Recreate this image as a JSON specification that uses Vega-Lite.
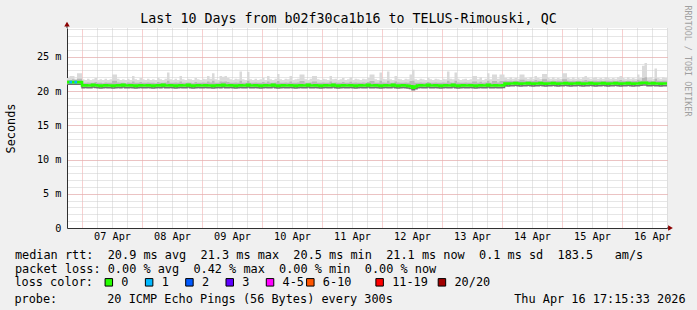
{
"$schema": "https://vega.github.io/schema/vega-lite/v6.json",
"width": 600, "height": 200,
"autosize": {"type": "none"},
"padding": {"left": 67, "top": 28, "right": 30, "bottom": 82},
"background": "#f0f0f0",
"config": {"font": "DejaVu Sans Mono", "view": {"fill": "#ffffff", "stroke": null}},
"title": {"text": "probe:\u00a0\u00a0\u00a0\u00a0\u00a0\u00a0\u00a020 ICMP Echo Pings (56 Bytes) every 300s\u00a0\u00a0\u00a0\u00a0\u00a0\u00a0\u00a0\u00a0\u00a0\u00a0\u00a0\u00a0\u00a0\u00a0\u00a0\u00a0\u00a0Thu Apr 16 17:15:33 2026",
 "orient": "bottom", "anchor": "start", "frame": "group", "align": "left", "dx": -52.6, "offset": 13.3, "baseline": "alphabetic",
 "font": "DejaVu Sans Mono", "fontSize": 11.86, "fontWeight": "normal", "color": "#000000"},
"datasets": {"ping": [
{"t":"2026-04-06T18:00Z","m":21.3,"lo":21.0,"q":21.6,"hi":21.9,"l":"0"},
{"t":"2026-04-06T19:00Z","m":21.3,"lo":21.0,"q":21.6,"hi":22.2,"l":"1"},
{"t":"2026-04-06T20:00Z","m":21.3,"lo":21.0,"q":21.7,"hi":22.2,"l":"0"},
{"t":"2026-04-06T21:00Z","m":21.3,"lo":21.0,"q":21.6,"hi":21.8,"l":"1"},
{"t":"2026-04-06T22:00Z","m":21.3,"lo":21.0,"q":21.8,"hi":22.6,"l":"0"},
{"t":"2026-04-06T23:00Z","m":21.3,"lo":21.0,"q":21.8,"hi":22.6,"l":"0"},
{"t":"2026-04-07T00:00Z","m":20.8,"lo":20.5,"q":21.2,"hi":21.7,"l":"0"},
{"t":"2026-04-07T01:00Z","m":20.85,"lo":20.55,"q":21.2,"hi":21.6,"l":"0"},
{"t":"2026-04-07T02:00Z","m":20.8,"lo":20.5,"q":21.25,"hi":21.8,"l":"0"},
{"t":"2026-04-07T03:00Z","m":20.8,"lo":20.5,"q":21.2,"hi":21.6,"l":"0"},
{"t":"2026-04-07T04:00Z","m":20.9,"lo":20.55,"q":21.2,"hi":21.7,"l":"0"},
{"t":"2026-04-07T05:00Z","m":20.85,"lo":20.5,"q":21.3,"hi":21.9,"l":"0"},
{"t":"2026-04-07T06:00Z","m":20.8,"lo":20.5,"q":21.2,"hi":21.6,"l":"0"},
{"t":"2026-04-07T07:00Z","m":20.75,"lo":20.45,"q":21.2,"hi":21.7,"l":"0"},
{"t":"2026-04-07T08:00Z","m":20.8,"lo":20.5,"q":21.15,"hi":21.6,"l":"0"},
{"t":"2026-04-07T09:00Z","m":20.85,"lo":20.55,"q":21.25,"hi":21.8,"l":"0"},
{"t":"2026-04-07T10:00Z","m":20.8,"lo":20.5,"q":21.2,"hi":21.6,"l":"0"},
{"t":"2026-04-07T11:00Z","m":20.8,"lo":20.5,"q":21.2,"hi":21.7,"l":"0"},
{"t":"2026-04-07T12:00Z","m":20.75,"lo":20.5,"q":21.5,"hi":22.4,"l":"0"},
{"t":"2026-04-07T13:00Z","m":20.8,"lo":20.5,"q":21.5,"hi":22.4,"l":"0"},
{"t":"2026-04-07T14:00Z","m":20.85,"lo":20.55,"q":21.25,"hi":21.8,"l":"0"},
{"t":"2026-04-07T15:00Z","m":20.8,"lo":20.5,"q":21.2,"hi":21.6,"l":"0"},
{"t":"2026-04-07T16:00Z","m":20.9,"lo":20.55,"q":21.2,"hi":21.7,"l":"0"},
{"t":"2026-04-07T17:00Z","m":20.8,"lo":20.5,"q":21.15,"hi":21.6,"l":"0"},
{"t":"2026-04-07T18:00Z","m":20.8,"lo":20.5,"q":21.25,"hi":21.8,"l":"0"},
{"t":"2026-04-07T19:00Z","m":20.85,"lo":20.5,"q":21.2,"hi":21.6,"l":"0"},
{"t":"2026-04-07T20:00Z","m":20.8,"lo":20.5,"q":21.4,"hi":22.2,"l":"0"},
{"t":"2026-04-07T21:00Z","m":20.75,"lo":20.45,"q":21.2,"hi":21.7,"l":"0"},
{"t":"2026-04-07T22:00Z","m":20.8,"lo":20.5,"q":21.2,"hi":21.6,"l":"0"},
{"t":"2026-04-07T23:00Z","m":20.85,"lo":20.55,"q":21.3,"hi":21.9,"l":"0"},
{"t":"2026-04-08T00:00Z","m":20.8,"lo":20.5,"q":21.2,"hi":21.7,"l":"0"},
{"t":"2026-04-08T01:00Z","m":20.8,"lo":20.5,"q":21.2,"hi":21.6,"l":"0"},
{"t":"2026-04-08T02:00Z","m":20.85,"lo":20.55,"q":21.25,"hi":21.8,"l":"0"},
{"t":"2026-04-08T03:00Z","m":20.8,"lo":20.5,"q":21.2,"hi":21.6,"l":"0"},
{"t":"2026-04-08T04:00Z","m":20.75,"lo":20.45,"q":21.2,"hi":21.7,"l":"0"},
{"t":"2026-04-08T05:00Z","m":20.8,"lo":20.5,"q":21.15,"hi":21.6,"l":"0"},
{"t":"2026-04-08T06:00Z","m":20.85,"lo":20.5,"q":21.3,"hi":21.9,"l":"0"},
{"t":"2026-04-08T07:00Z","m":20.8,"lo":20.5,"q":21.2,"hi":21.7,"l":"0"},
{"t":"2026-04-08T08:00Z","m":20.9,"lo":20.55,"q":21.2,"hi":21.6,"l":"0"},
{"t":"2026-04-08T09:00Z","m":20.8,"lo":20.5,"q":21.25,"hi":21.8,"l":"0"},
{"t":"2026-04-08T10:00Z","m":20.8,"lo":20.5,"q":21.5,"hi":22.7,"l":"0"},
{"t":"2026-04-08T11:00Z","m":20.85,"lo":20.55,"q":21.2,"hi":21.7,"l":"0"},
{"t":"2026-04-08T12:00Z","m":20.8,"lo":20.5,"q":21.2,"hi":21.6,"l":"0"},
{"t":"2026-04-08T13:00Z","m":20.75,"lo":20.45,"q":21.25,"hi":21.8,"l":"0"},
{"t":"2026-04-08T14:00Z","m":20.8,"lo":20.5,"q":21.2,"hi":21.6,"l":"0"},
{"t":"2026-04-08T15:00Z","m":20.85,"lo":20.5,"q":21.4,"hi":22.2,"l":"0"},
{"t":"2026-04-08T16:00Z","m":20.8,"lo":20.5,"q":21.2,"hi":21.7,"l":"0"},
{"t":"2026-04-08T17:00Z","m":20.8,"lo":20.5,"q":21.2,"hi":21.6,"l":"0"},
{"t":"2026-04-08T18:00Z","m":20.9,"lo":20.55,"q":21.25,"hi":21.8,"l":"0"},
{"t":"2026-04-08T19:00Z","m":20.8,"lo":20.5,"q":21.2,"hi":21.7,"l":"0"},
{"t":"2026-04-08T20:00Z","m":20.75,"lo":20.45,"q":21.15,"hi":21.6,"l":"0"},
{"t":"2026-04-08T21:00Z","m":20.8,"lo":20.5,"q":21.3,"hi":21.9,"l":"0"},
{"t":"2026-04-08T22:00Z","m":20.85,"lo":20.55,"q":21.2,"hi":21.7,"l":"0"},
{"t":"2026-04-08T23:00Z","m":20.8,"lo":20.5,"q":21.2,"hi":21.6,"l":"0"},
{"t":"2026-04-09T00:00Z","m":20.8,"lo":20.5,"q":21.25,"hi":21.8,"l":"0"},
{"t":"2026-04-09T01:00Z","m":20.85,"lo":20.5,"q":21.2,"hi":21.7,"l":"0"},
{"t":"2026-04-09T02:00Z","m":20.8,"lo":20.5,"q":21.4,"hi":22.2,"l":"0"},
{"t":"2026-04-09T03:00Z","m":20.8,"lo":20.5,"q":21.25,"hi":21.8,"l":"0"},
{"t":"2026-04-09T04:00Z","m":20.75,"lo":20.45,"q":21.5,"hi":22.6,"l":"0"},
{"t":"2026-04-09T05:00Z","m":20.8,"lo":20.5,"q":21.2,"hi":21.7,"l":"0"},
{"t":"2026-04-09T06:00Z","m":20.85,"lo":20.55,"q":21.2,"hi":21.6,"l":"0"},
{"t":"2026-04-09T07:00Z","m":20.8,"lo":20.5,"q":21.4,"hi":22.2,"l":"0"},
{"t":"2026-04-09T08:00Z","m":20.9,"lo":20.55,"q":21.35,"hi":22.1,"l":"0"},
{"t":"2026-04-09T09:00Z","m":20.8,"lo":20.5,"q":21.4,"hi":22.2,"l":"0"},
{"t":"2026-04-09T10:00Z","m":20.8,"lo":20.5,"q":21.3,"hi":21.9,"l":"0"},
{"t":"2026-04-09T11:00Z","m":20.85,"lo":20.5,"q":21.2,"hi":21.7,"l":"0"},
{"t":"2026-04-09T12:00Z","m":20.8,"lo":20.5,"q":21.2,"hi":21.6,"l":"0"},
{"t":"2026-04-09T13:00Z","m":20.75,"lo":20.45,"q":21.25,"hi":21.8,"l":"0"},
{"t":"2026-04-09T14:00Z","m":20.8,"lo":20.5,"q":21.2,"hi":21.7,"l":"0"},
{"t":"2026-04-09T15:00Z","m":20.85,"lo":20.55,"q":21.5,"hi":22.85,"l":"0"},
{"t":"2026-04-09T16:00Z","m":20.8,"lo":20.5,"q":21.2,"hi":21.7,"l":"0"},
{"t":"2026-04-09T17:00Z","m":20.8,"lo":20.5,"q":21.2,"hi":21.6,"l":"0"},
{"t":"2026-04-09T18:00Z","m":20.9,"lo":20.55,"q":21.5,"hi":22.8,"l":"0"},
{"t":"2026-04-09T19:00Z","m":20.8,"lo":20.5,"q":21.2,"hi":21.7,"l":"0"},
{"t":"2026-04-09T20:00Z","m":20.8,"lo":20.5,"q":21.2,"hi":21.6,"l":"0"},
{"t":"2026-04-09T21:00Z","m":20.85,"lo":20.5,"q":21.25,"hi":21.8,"l":"0"},
{"t":"2026-04-09T22:00Z","m":20.8,"lo":20.5,"q":21.2,"hi":21.6,"l":"0"},
{"t":"2026-04-09T23:00Z","m":20.75,"lo":20.45,"q":21.2,"hi":21.7,"l":"0"},
{"t":"2026-04-10T00:00Z","m":20.8,"lo":20.5,"q":21.3,"hi":21.9,"l":"0"},
{"t":"2026-04-10T01:00Z","m":20.85,"lo":20.55,"q":21.2,"hi":21.6,"l":"0"},
{"t":"2026-04-10T02:00Z","m":20.8,"lo":20.5,"q":21.4,"hi":22.2,"l":"0"},
{"t":"2026-04-10T03:00Z","m":20.8,"lo":20.5,"q":21.2,"hi":21.7,"l":"0"},
{"t":"2026-04-10T04:00Z","m":20.9,"lo":20.55,"q":21.2,"hi":21.6,"l":"0"},
{"t":"2026-04-10T05:00Z","m":20.8,"lo":20.5,"q":21.25,"hi":21.8,"l":"0"},
{"t":"2026-04-10T06:00Z","m":20.75,"lo":20.45,"q":21.45,"hi":22.5,"l":"0"},
{"t":"2026-04-10T07:00Z","m":20.8,"lo":20.5,"q":21.2,"hi":21.7,"l":"0"},
{"t":"2026-04-10T08:00Z","m":20.85,"lo":20.5,"q":21.2,"hi":21.6,"l":"0"},
{"t":"2026-04-10T09:00Z","m":20.8,"lo":20.5,"q":21.25,"hi":21.8,"l":"0"},
{"t":"2026-04-10T10:00Z","m":20.8,"lo":20.5,"q":21.2,"hi":21.7,"l":"0"},
{"t":"2026-04-10T11:00Z","m":20.85,"lo":20.55,"q":21.4,"hi":22.2,"l":"0"},
{"t":"2026-04-10T12:00Z","m":20.8,"lo":20.5,"q":21.2,"hi":21.6,"l":"0"},
{"t":"2026-04-10T13:00Z","m":20.75,"lo":20.45,"q":21.2,"hi":21.7,"l":"0"},
{"t":"2026-04-10T14:00Z","m":20.8,"lo":20.5,"q":21.25,"hi":21.8,"l":"0"},
{"t":"2026-04-10T15:00Z","m":20.85,"lo":20.5,"q":21.45,"hi":22.4,"l":"0"},
{"t":"2026-04-10T16:00Z","m":20.8,"lo":20.5,"q":21.45,"hi":22.4,"l":"0"},
{"t":"2026-04-10T17:00Z","m":20.8,"lo":20.5,"q":21.2,"hi":21.7,"l":"0"},
{"t":"2026-04-10T18:00Z","m":20.9,"lo":20.55,"q":21.2,"hi":21.6,"l":"0"},
{"t":"2026-04-10T19:00Z","m":20.8,"lo":20.5,"q":21.25,"hi":21.8,"l":"0"},
{"t":"2026-04-10T20:00Z","m":20.8,"lo":20.5,"q":21.4,"hi":22.2,"l":"0"},
{"t":"2026-04-10T21:00Z","m":20.85,"lo":20.55,"q":21.4,"hi":22.2,"l":"0"},
{"t":"2026-04-10T22:00Z","m":20.8,"lo":20.5,"q":21.2,"hi":21.7,"l":"0"},
{"t":"2026-04-10T23:00Z","m":20.75,"lo":20.45,"q":21.2,"hi":21.6,"l":"0"},
{"t":"2026-04-11T00:00Z","m":20.8,"lo":20.5,"q":21.25,"hi":21.8,"l":"0"},
{"t":"2026-04-11T01:00Z","m":20.85,"lo":20.5,"q":21.2,"hi":21.7,"l":"0"},
{"t":"2026-04-11T02:00Z","m":20.8,"lo":20.5,"q":21.2,"hi":21.6,"l":"0"},
{"t":"2026-04-11T03:00Z","m":20.8,"lo":20.5,"q":21.4,"hi":22.2,"l":"0"},
{"t":"2026-04-11T04:00Z","m":20.9,"lo":20.55,"q":21.2,"hi":21.7,"l":"0"},
{"t":"2026-04-11T05:00Z","m":20.8,"lo":20.5,"q":21.25,"hi":21.8,"l":"0"},
{"t":"2026-04-11T06:00Z","m":20.75,"lo":20.45,"q":21.2,"hi":21.6,"l":"0"},
{"t":"2026-04-11T07:00Z","m":20.8,"lo":20.5,"q":21.2,"hi":21.7,"l":"0"},
{"t":"2026-04-11T08:00Z","m":20.85,"lo":20.55,"q":21.3,"hi":21.9,"l":"0"},
{"t":"2026-04-11T09:00Z","m":20.8,"lo":20.5,"q":21.2,"hi":21.6,"l":"0"},
{"t":"2026-04-11T10:00Z","m":20.8,"lo":20.5,"q":21.2,"hi":21.7,"l":"0"},
{"t":"2026-04-11T11:00Z","m":20.85,"lo":20.5,"q":21.35,"hi":22.0,"l":"0"},
{"t":"2026-04-11T12:00Z","m":20.8,"lo":20.5,"q":21.2,"hi":21.6,"l":"0"},
{"t":"2026-04-11T13:00Z","m":20.75,"lo":20.45,"q":21.25,"hi":21.8,"l":"0"},
{"t":"2026-04-11T14:00Z","m":20.8,"lo":20.5,"q":21.2,"hi":21.7,"l":"0"},
{"t":"2026-04-11T15:00Z","m":20.85,"lo":20.55,"q":21.2,"hi":21.6,"l":"0"},
{"t":"2026-04-11T16:00Z","m":20.8,"lo":20.5,"q":21.25,"hi":21.8,"l":"0"},
{"t":"2026-04-11T17:00Z","m":20.8,"lo":20.5,"q":21.2,"hi":21.7,"l":"0"},
{"t":"2026-04-11T18:00Z","m":20.9,"lo":20.55,"q":21.3,"hi":21.9,"l":"0"},
{"t":"2026-04-11T19:00Z","m":20.8,"lo":20.5,"q":21.45,"hi":22.4,"l":"0"},
{"t":"2026-04-11T20:00Z","m":20.8,"lo":20.5,"q":21.45,"hi":22.4,"l":"0"},
{"t":"2026-04-11T21:00Z","m":20.85,"lo":20.5,"q":21.2,"hi":21.7,"l":"0"},
{"t":"2026-04-11T22:00Z","m":20.8,"lo":20.5,"q":21.2,"hi":21.6,"l":"0"},
{"t":"2026-04-11T23:00Z","m":20.75,"lo":20.45,"q":21.5,"hi":22.7,"l":"0"},
{"t":"2026-04-12T00:00Z","m":20.8,"lo":20.5,"q":21.25,"hi":21.8,"l":"0"},
{"t":"2026-04-12T01:00Z","m":20.85,"lo":20.55,"q":21.2,"hi":21.7,"l":"0"},
{"t":"2026-04-12T02:00Z","m":20.8,"lo":20.5,"q":21.5,"hi":22.85,"l":"0"},
{"t":"2026-04-12T03:00Z","m":20.8,"lo":20.5,"q":21.2,"hi":21.7,"l":"0"},
{"t":"2026-04-12T04:00Z","m":20.9,"lo":20.55,"q":21.2,"hi":21.6,"l":"0"},
{"t":"2026-04-12T05:00Z","m":20.8,"lo":20.5,"q":21.4,"hi":22.2,"l":"0"},
{"t":"2026-04-12T06:00Z","m":20.75,"lo":20.45,"q":21.25,"hi":21.8,"l":"0"},
{"t":"2026-04-12T07:00Z","m":20.8,"lo":20.5,"q":21.2,"hi":21.7,"l":"0"},
{"t":"2026-04-12T08:00Z","m":20.85,"lo":20.5,"q":21.2,"hi":21.6,"l":"0"},
{"t":"2026-04-12T09:00Z","m":20.8,"lo":20.5,"q":21.25,"hi":21.8,"l":"0"},
{"t":"2026-04-12T10:00Z","m":20.75,"lo":20.45,"q":21.2,"hi":21.7,"l":"0"},
{"t":"2026-04-12T11:00Z","m":20.7,"lo":20.35,"q":21.45,"hi":22.4,"l":"0"},
{"t":"2026-04-12T12:00Z","m":20.5,"lo":20.1,"q":21.5,"hi":23.1,"l":"0"},
{"t":"2026-04-12T13:00Z","m":20.65,"lo":20.3,"q":21.2,"hi":21.7,"l":"0"},
{"t":"2026-04-12T14:00Z","m":20.8,"lo":20.5,"q":21.2,"hi":21.6,"l":"0"},
{"t":"2026-04-12T15:00Z","m":20.85,"lo":20.55,"q":21.25,"hi":21.8,"l":"0"},
{"t":"2026-04-12T16:00Z","m":20.8,"lo":20.5,"q":21.2,"hi":21.7,"l":"0"},
{"t":"2026-04-12T17:00Z","m":20.8,"lo":20.5,"q":21.2,"hi":21.6,"l":"0"},
{"t":"2026-04-12T18:00Z","m":20.9,"lo":20.55,"q":21.3,"hi":21.9,"l":"0"},
{"t":"2026-04-12T19:00Z","m":20.8,"lo":20.5,"q":21.2,"hi":21.7,"l":"0"},
{"t":"2026-04-12T20:00Z","m":20.8,"lo":20.5,"q":21.2,"hi":21.6,"l":"0"},
{"t":"2026-04-12T21:00Z","m":20.85,"lo":20.5,"q":21.25,"hi":21.8,"l":"0"},
{"t":"2026-04-12T22:00Z","m":20.8,"lo":20.5,"q":21.2,"hi":21.7,"l":"0"},
{"t":"2026-04-12T23:00Z","m":20.75,"lo":20.45,"q":21.2,"hi":21.6,"l":"0"},
{"t":"2026-04-13T00:00Z","m":20.8,"lo":20.5,"q":21.25,"hi":21.8,"l":"0"},
{"t":"2026-04-13T01:00Z","m":20.85,"lo":20.55,"q":21.2,"hi":21.7,"l":"0"},
{"t":"2026-04-13T02:00Z","m":20.8,"lo":20.5,"q":21.5,"hi":22.85,"l":"0"},
{"t":"2026-04-13T03:00Z","m":20.8,"lo":20.5,"q":21.25,"hi":21.8,"l":"0"},
{"t":"2026-04-13T04:00Z","m":20.9,"lo":20.55,"q":21.2,"hi":21.7,"l":"0"},
{"t":"2026-04-13T05:00Z","m":20.8,"lo":20.5,"q":21.5,"hi":22.7,"l":"0"},
{"t":"2026-04-13T06:00Z","m":20.75,"lo":20.45,"q":21.25,"hi":21.8,"l":"0"},
{"t":"2026-04-13T07:00Z","m":20.8,"lo":20.5,"q":21.2,"hi":21.6,"l":"0"},
{"t":"2026-04-13T08:00Z","m":20.85,"lo":20.5,"q":21.2,"hi":21.7,"l":"0"},
{"t":"2026-04-13T09:00Z","m":20.8,"lo":20.5,"q":21.25,"hi":21.8,"l":"0"},
{"t":"2026-04-13T10:00Z","m":20.8,"lo":20.5,"q":21.2,"hi":21.6,"l":"0"},
{"t":"2026-04-13T11:00Z","m":20.85,"lo":20.55,"q":21.2,"hi":21.7,"l":"0"},
{"t":"2026-04-13T12:00Z","m":20.8,"lo":20.5,"q":21.4,"hi":22.2,"l":"0"},
{"t":"2026-04-13T13:00Z","m":20.75,"lo":20.45,"q":21.4,"hi":22.2,"l":"0"},
{"t":"2026-04-13T14:00Z","m":20.8,"lo":20.5,"q":21.2,"hi":21.7,"l":"0"},
{"t":"2026-04-13T15:00Z","m":20.85,"lo":20.5,"q":21.35,"hi":22.0,"l":"0"},
{"t":"2026-04-13T16:00Z","m":20.8,"lo":20.5,"q":21.2,"hi":21.6,"l":"0"},
{"t":"2026-04-13T17:00Z","m":20.8,"lo":20.5,"q":21.25,"hi":21.8,"l":"0"},
{"t":"2026-04-13T18:00Z","m":20.9,"lo":20.55,"q":21.5,"hi":22.6,"l":"0"},
{"t":"2026-04-13T19:00Z","m":20.8,"lo":20.5,"q":21.2,"hi":21.7,"l":"0"},
{"t":"2026-04-13T20:00Z","m":20.8,"lo":20.5,"q":21.45,"hi":22.4,"l":"0"},
{"t":"2026-04-13T21:00Z","m":20.85,"lo":20.55,"q":21.45,"hi":22.4,"l":"0"},
{"t":"2026-04-13T22:00Z","m":20.8,"lo":20.5,"q":21.25,"hi":21.8,"l":"0"},
{"t":"2026-04-13T23:00Z","m":20.8,"lo":20.5,"q":21.45,"hi":22.4,"l":"0"},
{"t":"2026-04-14T00:00Z","m":20.85,"lo":20.5,"q":21.45,"hi":22.4,"l":"0"},
{"t":"2026-04-14T01:00Z","m":21.1,"lo":20.8,"q":21.5,"hi":21.9,"l":"0"},
{"t":"2026-04-14T02:00Z","m":21.05,"lo":20.75,"q":21.45,"hi":21.8,"l":"0"},
{"t":"2026-04-14T03:00Z","m":21.1,"lo":20.8,"q":21.5,"hi":22.0,"l":"0"},
{"t":"2026-04-14T04:00Z","m":21.1,"lo":20.8,"q":21.45,"hi":21.8,"l":"0"},
{"t":"2026-04-14T05:00Z","m":21.15,"lo":20.85,"q":21.5,"hi":21.9,"l":"0"},
{"t":"2026-04-14T06:00Z","m":21.1,"lo":20.8,"q":21.45,"hi":21.8,"l":"0"},
{"t":"2026-04-14T07:00Z","m":21.05,"lo":20.75,"q":21.65,"hi":22.4,"l":"0"},
{"t":"2026-04-14T08:00Z","m":21.1,"lo":20.8,"q":21.65,"hi":22.4,"l":"0"},
{"t":"2026-04-14T09:00Z","m":21.1,"lo":20.8,"q":21.5,"hi":21.9,"l":"0"},
{"t":"2026-04-14T10:00Z","m":21.15,"lo":20.85,"q":21.45,"hi":21.8,"l":"0"},
{"t":"2026-04-14T11:00Z","m":21.1,"lo":20.8,"q":21.5,"hi":22.0,"l":"0"},
{"t":"2026-04-14T12:00Z","m":21.05,"lo":20.75,"q":21.45,"hi":21.8,"l":"0"},
{"t":"2026-04-14T13:00Z","m":21.1,"lo":20.8,"q":21.6,"hi":22.2,"l":"0"},
{"t":"2026-04-14T14:00Z","m":21.1,"lo":20.8,"q":21.5,"hi":21.9,"l":"0"},
{"t":"2026-04-14T15:00Z","m":21.15,"lo":20.85,"q":21.45,"hi":21.8,"l":"0"},
{"t":"2026-04-14T16:00Z","m":21.1,"lo":20.8,"q":21.7,"hi":22.5,"l":"0"},
{"t":"2026-04-14T17:00Z","m":21.05,"lo":20.75,"q":21.7,"hi":22.5,"l":"0"},
{"t":"2026-04-14T18:00Z","m":21.1,"lo":20.8,"q":21.5,"hi":21.9,"l":"0"},
{"t":"2026-04-14T19:00Z","m":21.1,"lo":20.8,"q":21.45,"hi":21.8,"l":"0"},
{"t":"2026-04-14T20:00Z","m":21.15,"lo":20.85,"q":21.5,"hi":22.0,"l":"0"},
{"t":"2026-04-14T21:00Z","m":21.1,"lo":20.8,"q":21.45,"hi":21.8,"l":"0"},
{"t":"2026-04-14T22:00Z","m":21.05,"lo":20.75,"q":21.5,"hi":21.9,"l":"0"},
{"t":"2026-04-14T23:00Z","m":21.1,"lo":20.8,"q":21.45,"hi":21.8,"l":"0"},
{"t":"2026-04-15T00:00Z","m":21.1,"lo":20.8,"q":21.7,"hi":22.6,"l":"0"},
{"t":"2026-04-15T01:00Z","m":21.15,"lo":20.85,"q":21.7,"hi":22.6,"l":"0"},
{"t":"2026-04-15T02:00Z","m":21.1,"lo":20.8,"q":21.5,"hi":21.9,"l":"0"},
{"t":"2026-04-15T03:00Z","m":21.05,"lo":20.75,"q":21.45,"hi":21.8,"l":"0"},
{"t":"2026-04-15T04:00Z","m":21.1,"lo":20.8,"q":21.5,"hi":22.0,"l":"0"},
{"t":"2026-04-15T05:00Z","m":21.1,"lo":20.8,"q":21.45,"hi":21.8,"l":"0"},
{"t":"2026-04-15T06:00Z","m":21.15,"lo":20.85,"q":21.5,"hi":21.9,"l":"0"},
{"t":"2026-04-15T07:00Z","m":21.1,"lo":20.8,"q":21.45,"hi":21.8,"l":"0"},
{"t":"2026-04-15T08:00Z","m":21.05,"lo":20.75,"q":21.5,"hi":22.0,"l":"0"},
{"t":"2026-04-15T09:00Z","m":21.1,"lo":20.8,"q":21.6,"hi":22.2,"l":"0"},
{"t":"2026-04-15T10:00Z","m":21.1,"lo":20.8,"q":21.5,"hi":21.9,"l":"0"},
{"t":"2026-04-15T11:00Z","m":21.15,"lo":20.85,"q":21.45,"hi":21.8,"l":"0"},
{"t":"2026-04-15T12:00Z","m":21.1,"lo":20.8,"q":21.5,"hi":21.9,"l":"0"},
{"t":"2026-04-15T13:00Z","m":21.05,"lo":20.75,"q":21.5,"hi":22.0,"l":"0"},
{"t":"2026-04-15T14:00Z","m":21.1,"lo":20.8,"q":21.45,"hi":21.8,"l":"0"},
{"t":"2026-04-15T15:00Z","m":21.1,"lo":20.8,"q":21.5,"hi":21.9,"l":"0"},
{"t":"2026-04-15T16:00Z","m":21.15,"lo":20.85,"q":21.45,"hi":21.8,"l":"0"},
{"t":"2026-04-15T17:00Z","m":21.1,"lo":20.8,"q":21.5,"hi":22.0,"l":"0"},
{"t":"2026-04-15T18:00Z","m":21.05,"lo":20.75,"q":21.5,"hi":21.9,"l":"0"},
{"t":"2026-04-15T19:00Z","m":21.1,"lo":20.8,"q":21.45,"hi":21.8,"l":"0"},
{"t":"2026-04-15T20:00Z","m":21.1,"lo":20.8,"q":21.5,"hi":21.9,"l":"0"},
{"t":"2026-04-15T21:00Z","m":21.15,"lo":20.85,"q":21.45,"hi":21.8,"l":"0"},
{"t":"2026-04-15T22:00Z","m":21.1,"lo":20.8,"q":21.5,"hi":22.0,"l":"0"},
{"t":"2026-04-15T23:00Z","m":21.05,"lo":20.75,"q":21.6,"hi":22.2,"l":"0"},
{"t":"2026-04-16T00:00Z","m":21.1,"lo":20.8,"q":21.5,"hi":21.9,"l":"0"},
{"t":"2026-04-16T01:00Z","m":21.1,"lo":20.8,"q":21.45,"hi":21.8,"l":"0"},
{"t":"2026-04-16T02:00Z","m":21.15,"lo":20.85,"q":21.5,"hi":22.0,"l":"0"},
{"t":"2026-04-16T03:00Z","m":21.1,"lo":20.8,"q":21.45,"hi":21.8,"l":"0"},
{"t":"2026-04-16T04:00Z","m":21.05,"lo":20.75,"q":21.5,"hi":21.9,"l":"0"},
{"t":"2026-04-16T05:00Z","m":21.1,"lo":20.8,"q":21.45,"hi":21.8,"l":"0"},
{"t":"2026-04-16T06:00Z","m":21.1,"lo":20.8,"q":21.65,"hi":22.4,"l":"0"},
{"t":"2026-04-16T07:00Z","m":21.15,"lo":20.85,"q":21.5,"hi":21.9,"l":"0"},
{"t":"2026-04-16T08:00Z","m":21.2,"lo":20.85,"q":21.9,"hi":23.7,"l":"0"},
{"t":"2026-04-16T09:00Z","m":21.2,"lo":20.85,"q":22.0,"hi":24.1,"l":"0"},
{"t":"2026-04-16T10:00Z","m":21.1,"lo":20.8,"q":21.5,"hi":21.9,"l":"0"},
{"t":"2026-04-16T11:00Z","m":21.1,"lo":20.8,"q":21.5,"hi":22.0,"l":"0"},
{"t":"2026-04-16T12:00Z","m":21.15,"lo":20.85,"q":21.45,"hi":21.8,"l":"0"},
{"t":"2026-04-16T13:00Z","m":21.1,"lo":20.8,"q":21.8,"hi":23.3,"l":"0"},
{"t":"2026-04-16T14:00Z","m":21.1,"lo":20.8,"q":21.5,"hi":21.9,"l":"0"},
{"t":"2026-04-16T15:00Z","m":21.05,"lo":20.75,"q":21.45,"hi":21.8,"l":"0"},
{"t":"2026-04-16T16:00Z","m":21.1,"lo":20.8,"q":21.5,"hi":22.0,"l":"0"},
{"t":"2026-04-16T17:00Z","m":21.1,"lo":20.8,"q":21.5,"hi":21.9,"l":"0"},
{"t":"2026-04-16T18:00Z","m":21.1,"lo":20.8,"q":21.5,"hi":21.9,"l":"0"}
]},
"data": {"name": "ping"},
"resolve": {"axis": {"x": "independent", "y": "independent"}},
"layer": [
{
"mark": {"type": "area", "interpolate": "step-after", "color": "#dadada", "opacity": 1},
"encoding": {
"x": {"field": "t", "type": "temporal",
 "scale": {"type": "utc", "nice": false, "domain": [{"year": 2026, "month": 4, "date": 6, "hours": 18, "utc": true}, {"year": 2026, "month": 4, "date": 16, "hours": 18, "utc": true}]},
 "axis": {"orient": "bottom",
  "values": [
   {"year": 2026, "month": 4, "date": 6, "hours": 18, "utc": true},
   {"year": 2026, "month": 4, "date": 7, "hours": 6, "utc": true}, {"year": 2026, "month": 4, "date": 7, "hours": 12, "utc": true}, {"year": 2026, "month": 4, "date": 7, "hours": 18, "utc": true},
   {"year": 2026, "month": 4, "date": 8, "hours": 6, "utc": true}, {"year": 2026, "month": 4, "date": 8, "hours": 12, "utc": true}, {"year": 2026, "month": 4, "date": 8, "hours": 18, "utc": true},
   {"year": 2026, "month": 4, "date": 9, "hours": 6, "utc": true}, {"year": 2026, "month": 4, "date": 9, "hours": 12, "utc": true}, {"year": 2026, "month": 4, "date": 9, "hours": 18, "utc": true},
   {"year": 2026, "month": 4, "date": 10, "hours": 6, "utc": true}, {"year": 2026, "month": 4, "date": 10, "hours": 12, "utc": true}, {"year": 2026, "month": 4, "date": 10, "hours": 18, "utc": true},
   {"year": 2026, "month": 4, "date": 11, "hours": 6, "utc": true}, {"year": 2026, "month": 4, "date": 11, "hours": 12, "utc": true}, {"year": 2026, "month": 4, "date": 11, "hours": 18, "utc": true},
   {"year": 2026, "month": 4, "date": 12, "hours": 6, "utc": true}, {"year": 2026, "month": 4, "date": 12, "hours": 12, "utc": true}, {"year": 2026, "month": 4, "date": 12, "hours": 18, "utc": true},
   {"year": 2026, "month": 4, "date": 13, "hours": 6, "utc": true}, {"year": 2026, "month": 4, "date": 13, "hours": 12, "utc": true}, {"year": 2026, "month": 4, "date": 13, "hours": 18, "utc": true},
   {"year": 2026, "month": 4, "date": 14, "hours": 6, "utc": true}, {"year": 2026, "month": 4, "date": 14, "hours": 12, "utc": true}, {"year": 2026, "month": 4, "date": 14, "hours": 18, "utc": true},
   {"year": 2026, "month": 4, "date": 15, "hours": 6, "utc": true}, {"year": 2026, "month": 4, "date": 15, "hours": 12, "utc": true}, {"year": 2026, "month": 4, "date": 15, "hours": 18, "utc": true},
   {"year": 2026, "month": 4, "date": 16, "hours": 6, "utc": true}, {"year": 2026, "month": 4, "date": 16, "hours": 12, "utc": true}, {"year": 2026, "month": 4, "date": 16, "hours": 18, "utc": true}],
  "labelExpr": "utchours(datum.value) == 12 ? utcFormat(datum.value, '%d %b') : ''",
  "labelOverlap": false, "labelFlush": false, "labelBound": false,
  "labelFont": "DejaVu Sans Mono", "labelFontSize": 10.2, "labelColor": "#000000", "labelPadding": 3, "labelDx": 2, "labelBaseline": "top",
  "grid": true, "gridColor": "#cccccc", "gridDash": [1, 1], "gridWidth": 1,
  "ticks": false, "tickSize": 0, "domain": true, "domainColor": "#303030",
  "title": ["median rtt:\u00a0\u00a020.9 ms avg\u00a0\u00a021.3 ms max\u00a0\u00a020.5 ms min\u00a0\u00a021.1 ms now\u00a0\u00a00.1 ms sd\u00a0\u00a0183.5\u00a0\u00a0\u00a0am/s",
   "packet loss: 0.00 % avg\u00a0\u00a00.42 % max\u00a0\u00a00.00 % min\u00a0\u00a00.00 % now"],
  "titleFont": "DejaVu Sans Mono", "titleFontSize": 11.86, "titleFontWeight": "normal", "titleColor": "#000000",
  "titleAlign": "left", "titleBaseline": "alphabetic", "titleX": -52.6, "titleY": 30.5, "titleLineHeight": 14}},
"y": {"field": "lo", "type": "quantitative",
 "scale": {"domain": [0, 29.2], "nice": false},
 "axis": {"orient": "left", "values": [0,1,2,3,4,5,6,7,8,9,10,11,12,13,14,15,16,17,18,19,20,21,22,23,24,25,26,27,28,29],
  "labelExpr": "datum.value % 5 == 0 ? (datum.value == 0 ? '0' : datum.value + ' m') : ''",
  "labelOverlap": false, "labelFlush": false, "labelFont": "DejaVu Sans Mono", "labelFontSize": 10.2, "labelColor": "#000000", "labelPadding": 6,
  "grid": true, "gridColor": "#cccccc", "gridDash": [1, 1], "gridWidth": 1,
  "ticks": false, "tickSize": 0, "domain": true, "domainColor": "#303030",
  "title": "Seconds", "titleFont": "DejaVu Sans Mono", "titleFontSize": 11.86, "titleFontWeight": "normal", "titleColor": "#000000",
  "titleAngle": -90, "titleAlign": "center", "titleBaseline": "alphabetic", "titleX": -52.5, "titleY": 100}},
"y2": {"field": "hi"}
}
},
{
"mark": {"type": "area", "interpolate": "step-after", "color": "#b8b8b8", "opacity": 1},
"encoding": {
"x": {"field": "t", "type": "temporal",
 "axis": {"orient": "top", "labels": false, "ticks": false, "domain": false,
  "values": [
   {"year": 2026, "month": 4, "date": 7, "utc": true}, {"year": 2026, "month": 4, "date": 8, "utc": true}, {"year": 2026, "month": 4, "date": 9, "utc": true},
   {"year": 2026, "month": 4, "date": 10, "utc": true}, {"year": 2026, "month": 4, "date": 11, "utc": true}, {"year": 2026, "month": 4, "date": 12, "utc": true},
   {"year": 2026, "month": 4, "date": 13, "utc": true}, {"year": 2026, "month": 4, "date": 14, "utc": true}, {"year": 2026, "month": 4, "date": 15, "utc": true},
   {"year": 2026, "month": 4, "date": 16, "utc": true}],
  "grid": true, "gridColor": "#f0a0a0", "gridDash": [1, 1], "gridWidth": 1,
  "title": "Last 10 Days from b02f30ca1b16 to TELUS-Rimouski, QC", "titleFont": "DejaVu Sans Mono", "titleFontSize": 13.3, "titleFontWeight": "normal", "titleColor": "#000000",
  "titleX": 281, "titleY": -5.3, "titleAlign": "center", "titleBaseline": "alphabetic", "titleAngle": 0}},
"y": {"field": "m", "type": "quantitative",
 "axis": {"orient": "right", "labels": false, "ticks": false, "domain": false,
  "values": [5, 10, 15, 20, 25],
  "grid": true, "gridColor": "#f0a0a0", "gridDash": [1, 1], "gridWidth": 1,
  "title": "RRDTOOL / TOBI OETIKER", "titleFont": "DejaVu Sans Mono", "titleFontSize": 8.4, "titleFontWeight": "normal", "titleColor": "#a0a0a0",
  "titleAngle": 90, "titleX": 20, "titleY": -23, "titleAlign": "left", "titleBaseline": "middle"}},
"y2": {"field": "q"}
}
},
{
"mark": {"type": "line", "interpolate": "step-after", "color": "#707070", "strokeWidth": 1.5, "yOffset": 2.2, "opacity": 1},
"encoding": {
"x": {"field": "t", "type": "temporal", "axis": null},
"y": {"field": "m", "type": "quantitative", "axis": null}
}
},
{
"mark": {"type": "line", "interpolate": "step-after", "color": "#26ff00", "strokeWidth": 2.6, "opacity": 1},
"encoding": {
"x": {"field": "t", "type": "temporal", "axis": null},
"y": {"field": "m", "type": "quantitative", "axis": null}
}
},
{
"transform": [{"filter": "datum.l != '0'"}],
"mark": {"type": "point", "shape": "square", "filled": true, "size": 7, "xOffset": 1.25, "opacity": 1},
"encoding": {
"x": {"field": "t", "type": "temporal", "axis": null},
"y": {"field": "m", "type": "quantitative", "axis": null},
"color": {"field": "l", "type": "nominal",
 "scale": {"domain": ["0", "1", "2", "3", "4-5", "6-10", "11-19", "20/20"], "range": ["#26ff00", "#00b8ff", "#0059ff", "#5e00ff", "#ff00ff", "#ff5500", "#ff0000", "#a10000"]},
 "legend": {"orient": "none", "legendX": -52.6, "legendY": 248.3, "direction": "horizontal", "padding": 0,
  "title": "loss color:", "titleOrient": "left", "titlePadding": 9.5, "titleFont": "DejaVu Sans Mono", "titleFontSize": 11.86, "titleFontWeight": "normal", "titleColor": "#000000",
  "labelFont": "DejaVu Sans Mono", "labelFontSize": 11.86, "labelColor": "#000000", "labelOffset": 6.6,
  "labelExpr": "length(datum.label) == 1 ? datum.label + '\u00a0\u00a0\u200b' : datum.label == '6-10' ? datum.label + '\u00a0\u00a0\u00a0\u200b' : datum.label == '11-19' ? datum.label + '\u00a0\u200b' : datum.label",
  "symbolType": "square", "symbolSize": 56, "symbolStrokeColor": "#000000", "symbolStrokeWidth": 1, "symbolOpacity": 1, "columnPadding": 0.3,
  "encode": {"symbols": {"update": {"stroke": {"value": "#000000"}, "strokeWidth": {"value": 1}, "opacity": {"value": 1}}}}}}
}
},
{
"data": {"values": [{}]},
"mark": {"type": "rule", "color": "#303030", "strokeWidth": 1},
"encoding": {
"x": {"datum": {"year": 2026, "month": 4, "date": 6, "hours": 18, "utc": true}, "type": "temporal", "axis": null},
"y": {"datum": 29.2, "type": "quantitative", "axis": null},
"y2": {"datum": 29.75}
}
},
{
"data": {"values": [{}]},
"mark": {"type": "rule", "color": "#303030", "strokeWidth": 1},
"encoding": {
"x": {"datum": {"year": 2026, "month": 4, "date": 16, "hours": 18, "utc": true}, "type": "temporal", "axis": null},
"x2": {"datum": {"year": 2026, "month": 4, "date": 16, "hours": 19, "minutes": 24, "utc": true}},
"y": {"datum": 0, "type": "quantitative", "axis": null}
}
},
{
"data": {"values": [{}]},
"mark": {"type": "point", "shape": "triangle-up", "size": 30, "filled": true, "color": "#8b0000", "opacity": 1},
"encoding": {
"x": {"datum": {"year": 2026, "month": 4, "date": 6, "hours": 18, "utc": true}, "type": "temporal", "axis": null},
"y": {"datum": 29.75, "type": "quantitative", "axis": null}
}
},
{
"data": {"values": [{}]},
"mark": {"type": "point", "shape": "triangle-right", "size": 30, "filled": true, "color": "#8b0000", "opacity": 1},
"encoding": {
"x": {"datum": {"year": 2026, "month": 4, "date": 16, "hours": 19, "minutes": 24, "utc": true}, "type": "temporal", "axis": null},
"y": {"datum": 0, "type": "quantitative", "axis": null}
}
}
]
}
